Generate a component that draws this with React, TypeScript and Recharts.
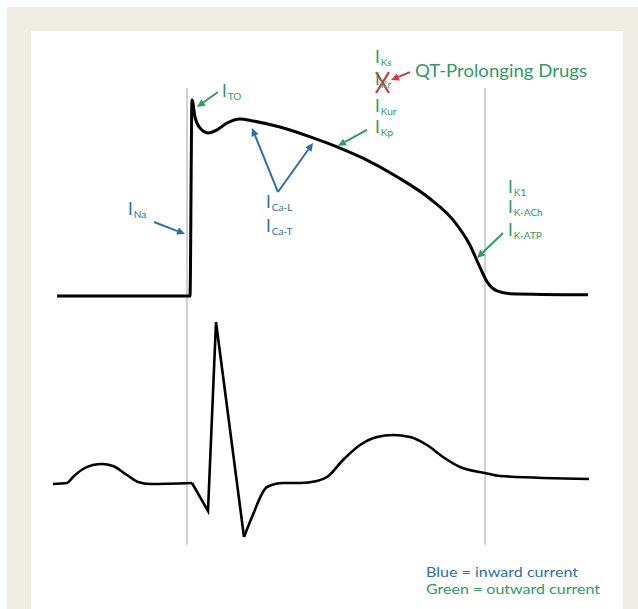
import React from "react";
import { ComposedChart, Line, XAxis, YAxis, ReferenceLine, ReferenceDot } from "recharts";

// action potential, time in ms from upstroke, membrane potential in mV
const apTime = [-133, 0, 2, 5, 10, 18, 27, 37, 50, 63, 90, 123, 150, 173, 207, 240, 263, 280, 290, 297, 307, 320, 398];
const apVoltage = [-85, -85, 30.9, 20.8, 14.3, 11.4, 13.2, 17.3, 19.7, 18.5, 14.9, 8.5, 2.5, -3.5, -14.5, -27.5, -40, -55, -68, -76.5, -82, -83.6, -84.3];

// surface ECG in mV, split so the QRS stays sharp
const pWaveTime = [-137, -123, -117, -107, -97, -88, -77, -63, -52, -40, 2];
const pWaveMv = [-0.01, 0, 0.06, 0.14, 0.18, 0.19, 0.17, 0.08, 0.01, -0.01, 0];
const qrsTime = [2, 18, 26, 54];
const qrsMv = [0, -0.28, 1.61, -0.54];
const tWaveTime = [54, 62, 77, 93, 110, 127, 137, 153, 170, 187, 203, 220, 237, 253, 270, 295, 310, 399];
const tWaveMv = [-0.54, -0.34, -0.04, 0, 0, 0.02, 0.06, 0.23, 0.38, 0.46, 0.48, 0.46, 0.38, 0.26, 0.16, 0.1, 0.07, 0.04];

// start of depolarisation and end of repolarisation markers
const markerTimes = [-3, 295];

// ion current labels
const currentNames = ["TO", "Na", "Ca-L", "Ca-T", "Ks", "Kr", "Kur", "Kp", "K1", "K-ACh", "K-ATP"];
const currentKind = ["out", "in", "in", "in", "out", "out", "out", "out", "out", "out", "out"];
const currentTime = [32, -62, 76, 76, 185, 185, 185, 185, 318, 318, 318];
const currentMv = [32.7, -37.1, -32.9, -47.1, 52.8, 39.8, 23.8, 11.4, -24.1, -35.9, -49.5];

// arrows [t, mV] from -> to
const arrowKind = ["out", "in", "in", "in", "out", "drug", "out"];
const arrowFrom = [[28, 35.6], [-36, -41.2], [88, -23.5], [88, -23.5], [177, 13.2], [220, 47.4], [313, -47.7]];
const arrowTo = [[7, 26.8], [-5, -48.3], [62, 14.3], [123, 5.5], [148, 3.8], [201, 42.7], [287, -62.5]];

const GREEN = "#2f9a62";
const BLUE = "#2c6fa8";
const RED = "#d6343d";
const FONT = "Lato, 'Open Sans', sans-serif";
const colorOf = (k: string) => (k === "in" ? BLUE : k === "drug" ? RED : GREEN);

const apData = apTime.map((t, i) => ({ t, mv: apVoltage[i] }));
const pData = pWaveTime.map((t, i) => ({ t, mv: pWaveMv[i] }));
const qrsData = qrsTime.map((t, i) => ({ t, mv: qrsMv[i] }));
const tData = tWaveTime.map((t, i) => ({ t, mv: tWaveMv[i] }));

const arrowShape = (color: string) => (props: any) => {
  const { x1, y1, x2, y2 } = props;
  const a = Math.atan2(y2 - y1, x2 - x1);
  const L = 8;
  const W = 3.8;
  const bx = x2 - L * Math.cos(a);
  const by = y2 - L * Math.sin(a);
  const nx = -Math.sin(a) * W;
  const ny = Math.cos(a) * W;
  return (
    <g>
      <line x1={x1} y1={y1} x2={bx} y2={by} stroke={color} strokeWidth={2} />
      <polygon points={`${x2},${y2} ${bx + nx},${by + ny} ${bx - nx},${by - ny}`} fill={color} />
    </g>
  );
};

const currentLabel = (name: string, color: string) => (props: any) => (
  <text x={props.cx} y={props.cy} fill={color} fontFamily={FONT} fontSize={17}>
    I
    <tspan fontSize={10} dy={3} dx={1}>
      {name}
    </tspan>
  </text>
);

const plainText = (txt: string, color: string, size: number, len: number) => (props: any) => (
  <text x={props.cx} y={props.cy} fill={color} fontFamily={FONT} fontSize={size} textLength={len} lengthAdjust="spacingAndGlyphs">
    {txt}
  </text>
);

export default function App() {
  return (
    <div style={{ position: "absolute", left: 0, top: 0, width: 638, height: 609, background: "#fff", overflow: "hidden" }}>
      <div style={{ position: "absolute", left: 7, top: 7, width: 631, height: 620, background: "#efede3" }} />
      <div style={{ position: "absolute", left: 31, top: 31, width: 592, height: 600, background: "#fff" }} />
      <div style={{ position: "absolute", left: 0, top: 0 }}>
        <ComposedChart width={638} height={609} margin={{ top: 0, right: 8, bottom: 0, left: 30 }}>
          <XAxis type="number" dataKey="t" domain={[-160, 440]} allowDataOverflow hide />
          <YAxis yAxisId="ap" type="number" domain={[-270, 90]} allowDataOverflow hide />
          <YAxis yAxisId="ecg" type="number" domain={[-1.26, 4.83]} allowDataOverflow hide />

          {markerTimes.map((t) => (
            <ReferenceLine
              key={t}
              yAxisId="ap"
              segment={[{ x: t, y: 38 }, { x: t, y: -232 }]}
              stroke="#a3a3a3"
              strokeWidth={1}
              ifOverflow="visible"
            />
          ))}

          <Line yAxisId="ap" data={apData} dataKey="mv" type="monotone" stroke="#000" strokeWidth={3}
            dot={false} activeDot={false} isAnimationActive={false} />
          <Line yAxisId="ecg" data={pData} dataKey="mv" type="monotone" stroke="#000" strokeWidth={2.6}
            dot={false} activeDot={false} isAnimationActive={false} />
          <Line yAxisId="ecg" data={qrsData} dataKey="mv" type="linear" stroke="#000" strokeWidth={2.6}
            dot={false} activeDot={false} isAnimationActive={false} strokeLinejoin="miter" />
          <Line yAxisId="ecg" data={tData} dataKey="mv" type="monotone" stroke="#000" strokeWidth={2.6}
            dot={false} activeDot={false} isAnimationActive={false} />

          {arrowKind.map((k, i) => (
            <ReferenceLine
              key={"a" + i}
              yAxisId="ap"
              segment={[{ x: arrowFrom[i][0], y: arrowFrom[i][1] }, { x: arrowTo[i][0], y: arrowTo[i][1] }]}
              shape={arrowShape(colorOf(k))}
              ifOverflow="visible"
            />
          ))}

          {currentNames.map((n, i) => (
            <ReferenceDot
              key={"l" + i}
              yAxisId="ap"
              x={currentTime[i]}
              y={currentMv[i]}
              shape={currentLabel(n, colorOf(currentKind[i]))}
              ifOverflow="visible"
            />
          ))}

          {/* blocked I_Kr */}
          <ReferenceLine yAxisId="ap" segment={[{ x: 186, y: 47.4 }, { x: 199, y: 35 }]} stroke={RED} strokeWidth={2.2} ifOverflow="visible" />
          <ReferenceLine yAxisId="ap" segment={[{ x: 199, y: 47.4 }, { x: 186, y: 35 }]} stroke={RED} strokeWidth={2.2} ifOverflow="visible" />

          <ReferenceDot yAxisId="ap" x={225} y={44.5} ifOverflow="visible" shape={plainText("QT-Prolonging Drugs", GREEN, 17, 172)} />
          <ReferenceDot yAxisId="ap" x={236} y={-251.1} ifOverflow="visible" shape={plainText("Blue = inward current", BLUE, 14, 152)} />
          <ReferenceDot yAxisId="ap" x={236} y={-261.1} ifOverflow="visible" shape={plainText("Green = outward current", GREEN, 14, 174)} />
        </ComposedChart>
      </div>
    </div>
  );
}
